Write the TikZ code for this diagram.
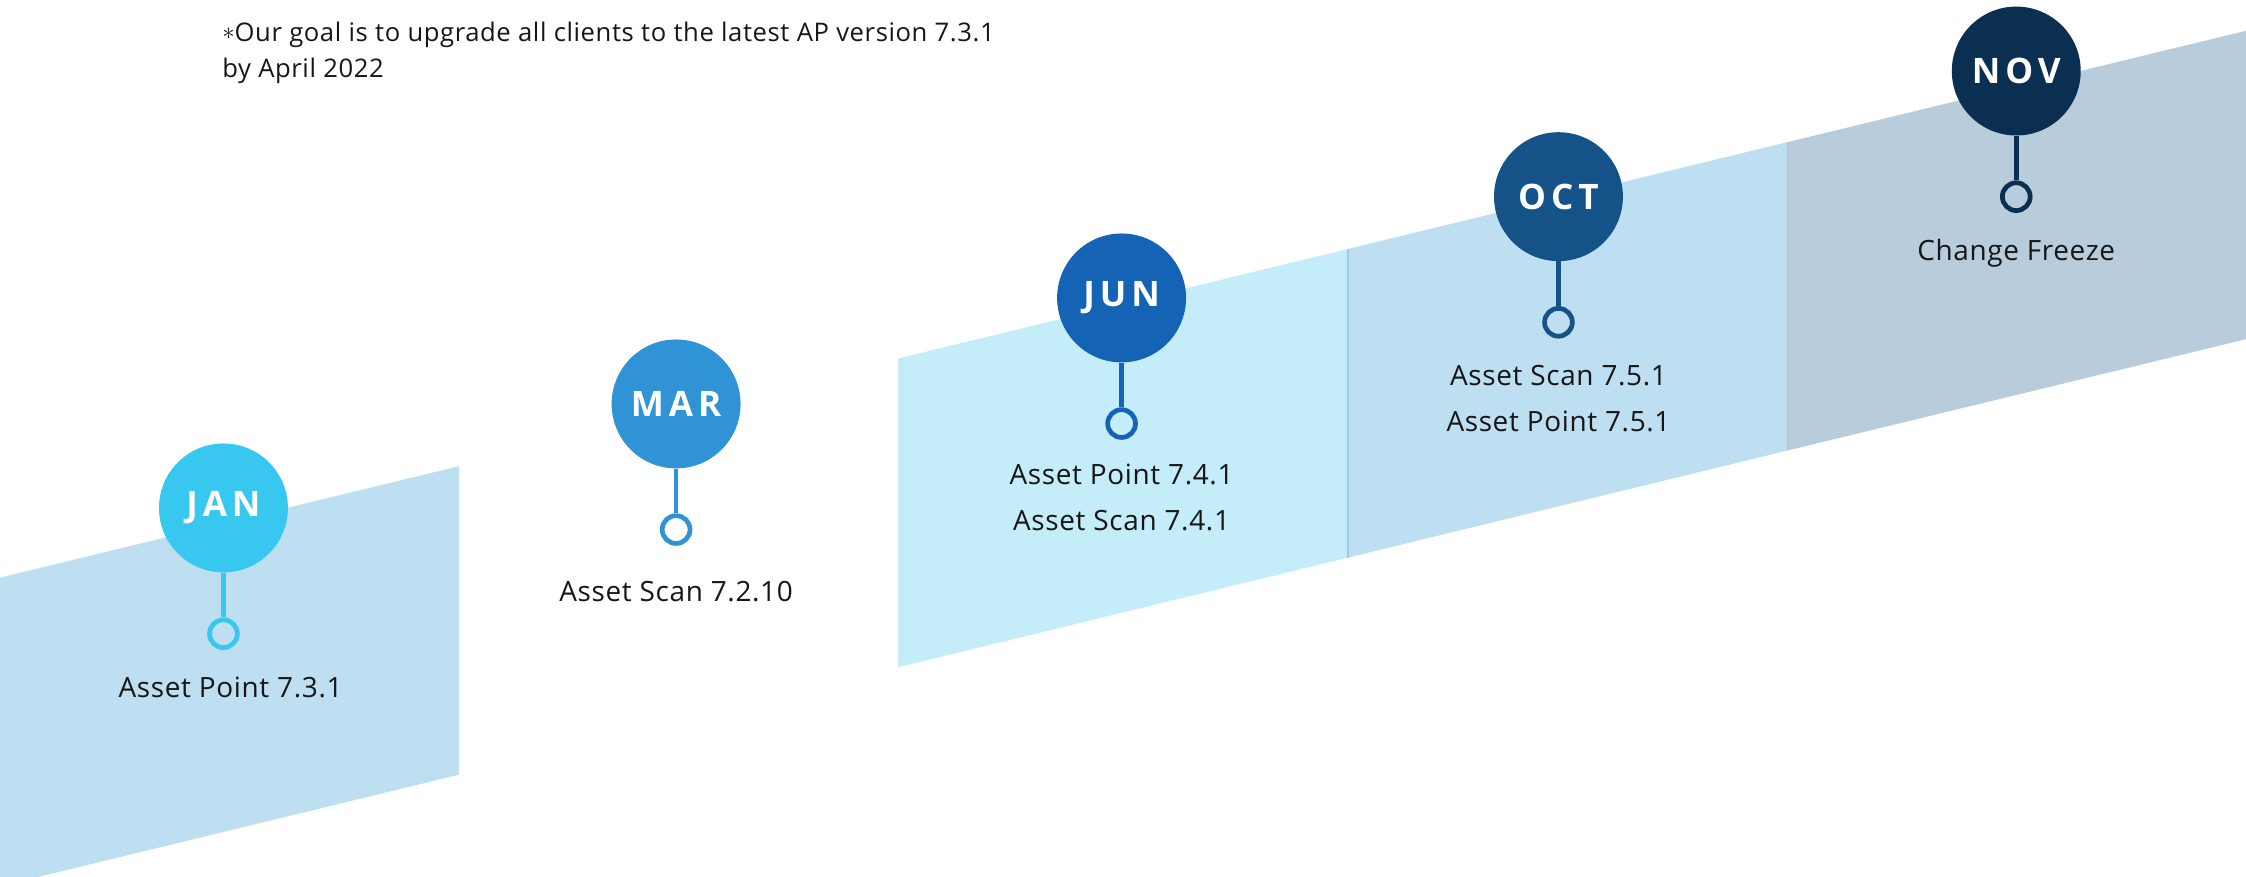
\documentclass[tikz,border=0pt]{standalone}
\usepackage{fontspec}
\setmainfont{Open Sans}
\newfontfamily\monthfont[LetterSpace=14]{Open Sans}
\newfontfamily\labelfont[LetterSpace=2.3]{Open Sans}
\definecolor{bandA}{HTML}{BEDEF1}
\definecolor{bandB}{HTML}{C4ECF9}
\definecolor{bandC}{HTML}{B9CCDC}
\definecolor{sepline}{HTML}{9ECBEA}
\definecolor{cjan}{HTML}{38C8EF}
\definecolor{cmar}{HTML}{2F93D6}
\definecolor{cjun}{HTML}{1463B5}
\definecolor{coct}{HTML}{155288}
\definecolor{cnov}{HTML}{0B2F51}
\definecolor{txt}{HTML}{161616}
\tikzset{
  month/.style={circle, minimum size=90pt, inner sep=0pt, text=white, font=\monthfont\bfseries\fontsize{24.5}{24.5}\selectfont},
  ring/.style={circle, minimum size=19.4pt, inner sep=0pt, line width=3.3pt, fill=none},
  stem/.style={line width=3.3pt},
  lbl/.style={text=txt, font=\labelfont\fontsize{19.5}{32}\selectfont, align=center, inner sep=0pt},
  note/.style={text=txt, font=\labelfont\fontsize{17.9}{25}\selectfont, align=left, inner sep=0pt, anchor=north west}
}
\begin{document}
\begin{tikzpicture}[x=1pt,y=-1pt]
\useasboundingbox (0,0) rectangle (1568,612);
\clip (0,0) rectangle (1568,612);
% bands
\fill[bandA] (0,403.3) -- (320.6,325.4) -- (320.6,540.8) -- (0,618.7) -- cycle;
\fill[bandB] (627,250.3) -- (941,173.8) -- (941,389.3) -- (627,465.8) -- cycle;
\fill[bandA] (941,173.8) -- (1248,99.2) -- (1248,314.5) -- (941,389.3) -- cycle;
\fill[bandC] (1248,99.2) -- (1568,21.5) -- (1568,236.8) -- (1248,314.5) -- cycle;
\draw[sepline, line width=0.9pt] (941,173.8) -- (941,389.3);
\draw[sepline, line width=0.9pt] (1248,99.2) -- (1248,314.5);
% note
\node[note] (note) at (155,15) {\raisebox{0.1ex}{$\ast$}Our goal is to upgrade all clients to the latest AP version 7.3.1\\by April 2022};
% JAN
\node[month, fill=cjan] (jan) at (156,354.6) {JAN};
\node[ring, draw=cjan] (janr) at (156,442.4) {};
\draw[stem, cjan] (jan) -- (janr);
\node[lbl] (jant) at (161,480) {Asset Point 7.3.1};
% MAR
\node[month, fill=cmar] (mar) at (472,282) {MAR};
\node[ring, draw=cmar] (marr) at (472,369.7) {};
\draw[stem, cmar] (mar) -- (marr);
\node[lbl] (mart) at (472,413) {Asset Scan 7.2.10};
% JUN
\node[month, fill=cjun] (jun) at (783,208) {JUN};
\node[ring, draw=cjun] (junr) at (783,295.7) {};
\draw[stem, cjun] (jun) -- (junr);
\node[lbl] (junt) at (783,347.5) {Asset Point 7.4.1\\Asset Scan 7.4.1};
% OCT
\node[month, fill=coct] (oct) at (1088,137.3) {OCT};
\node[ring, draw=coct] (octr) at (1088,225) {};
\draw[stem, coct] (oct) -- (octr);
\node[lbl] (octt) at (1088,278.5) {Asset Scan 7.5.1\\Asset Point 7.5.1};
% NOV
\node[month, fill=cnov] (nov) at (1407.6,49.6) {NOV};
\node[ring, draw=cnov] (novr) at (1407.6,137.3) {};
\draw[stem, cnov] (nov) -- (novr);
\node[lbl] (novt) at (1407.6,176.5) {Change Freeze};
\end{tikzpicture}
\end{document}
